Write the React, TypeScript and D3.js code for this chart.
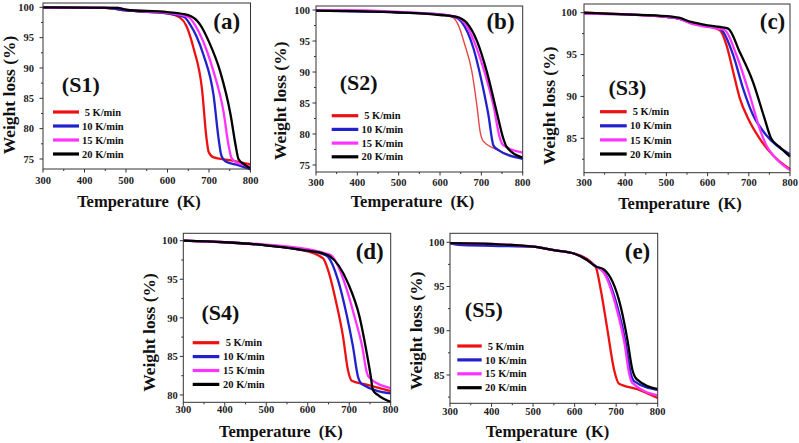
import React from "react";
import * as d3 from "d3";

type Pt = [number, number];

// ---------- data (temperature K, weight %) ----------
const RATES = [" 5 K/min", "10 K/min", "15 K/min", "20 K/min"];
const X_TICKS = [300, 400, 500, 600, 700, 800];

const A_5: Pt[] = [[300,100],[450,99.9],[500,99.5],[600,99.0],[630,98.3],[645,97.0],[663,93.2],[683,86.6],[694,78.4],[699,76.2],[710,75.3],[750,74.8],[800,74.1]];
const A_10: Pt[] = [[300,100],[450,99.9],[500,99.5],[600,99.0],[640,98.4],[655,97.1],[670,95.2],[687,92.1],[711,85.5],[723,78.4],[730,75.5],[740,74.6],[770,74.0],[800,73.3]];
const A_15: Pt[] = [[300,100],[480,99.9],[500,99.6],[600,99.1],[650,98.4],[675,96.0],[695,92.8],[711,89.4],[735,82.8],[747,77.3],[754,75.2],[765,74.5],[800,73.8]];
const A_20: Pt[] = [[300,100],[480,99.9],[500,99.6],[600,99.2],[650,98.7],[679,97.1],[700,94.3],[727,89.4],[752,82.3],[764,77.3],[771,75.0],[785,74.1],[800,73.4]];

const B_5: Pt[] = [[300,100],[500,99.6],[600,99.2],[630,98.8],[644,97.6],[660,94.4],[677,90.1],[689,84.7],[697,80.4],[705,78.8],[733,77.6],[800,76.0]];
const B_10: Pt[] = [[300,99.9],[500,99.6],[600,99.3],[635,98.9],[652,98.1],[681,93.8],[701,88.4],[717,83.1],[729,78.2],[737,77.6],[800,76.0]];
const B_15: Pt[] = [[300,100],[380,100],[500,99.7],[600,99.3],[640,98.9],[660,97.9],[685,94.5],[705,90.6],[729,84.7],[745,79.3],[753,78.2],[800,77.0]];
const B_20: Pt[] = [[300,99.9],[500,99.6],[600,99.2],[640,98.9],[665,97.9],[690,94.9],[713,90.1],[737,83.6],[753,79.3],[761,77.95],[800,76.2]];

const C_5: Pt[] = [[300,100],[400,99.8],[500,99.5],[530,99.3],[560,98.8],[600,98.4],[630,97.9],[646,96.1],[662,92.95],[678,89.8],[698,87.4],[726,85.0],[758,83.0],[800,81.3]];
const C_10: Pt[] = [[300,99.9],[400,99.8],[500,99.5],[530,99.3],[560,98.8],[600,98.4],[625,98.2],[638,97.7],[662,94.95],[686,90.97],[710,87.8],[742,85.4],[766,84.2],[800,83.1]];
const C_15: Pt[] = [[300,99.9],[400,99.8],[500,99.5],[530,99.3],[560,98.7],[600,98.3],[625,98.1],[642,97.9],[670,94.95],[702,90.2],[726,86.2],[742,84.2],[766,82.6],[800,81.2]];
const C_20: Pt[] = [[300,100],[400,99.8],[500,99.6],[530,99.4],[560,98.9],[600,98.5],[630,98.3],[650,98.1],[678,95.3],[710,91.75],[738,87.4],[754,85.0],[774,84.0],[800,82.8]];

const D_5: Pt[] = [[300,100],[400,99.8],[500,99.4],[600,98.6],[637,97.7],[649,96.2],[669,91.9],[685,87.6],[697,83.2],[706,81.85],[737,81.4],[800,80.5]];
const D_10: Pt[] = [[300,100],[400,99.8],[500,99.4],[600,98.7],[635,98.3],[649,97.9],[673,94.9],[693,90.6],[709,86.3],[721,82.4],[731,81.4],[800,80.2]];
const D_15: Pt[] = [[300,100],[400,99.8],[500,99.5],[600,98.9],[640,98.4],[657,98.1],[689,94.5],[713,90.1],[733,85.8],[741,83.2],[749,82.2],[800,80.9]];
const D_20: Pt[] = [[300,100],[400,99.8],[500,99.4],[600,98.7],[640,98.3],[653,98.0],[697,94.5],[725,90.1],[741,85.8],[752,82.4],[757,80.65],[769,80.0],[800,79.1]];

const E_5: Pt[] = [[300,99.9],[400,99.7],[500,99.5],[550,99.1],[600,98.7],[630,98.1],[645,97.5],[651,97.2],[663,94.6],[679,90.1],[695,85.6],[707,84.0],[751,83.4],[800,82.4]];
const E_10: Pt[] = [[300,99.9],[320,99.7],[400,99.6],[500,99.5],[550,99.1],[600,98.7],[630,98.0],[650,97.3],[671,96.6],[703,92.7],[723,88.6],[735,85.2],[743,84.3],[800,83.3]];
const E_15: Pt[] = [[300,99.9],[400,99.8],[500,99.5],[550,99.1],[600,98.7],[630,98.0],[650,97.3],[671,96.5],[701,92.5],[720,88.6],[732,85.0],[739,84.1],[800,82.7]];
const E_20: Pt[] = [[300,99.9],[400,99.8],[500,99.5],[550,99.1],[600,98.7],[630,98.0],[650,97.3],[671,96.9],[711,92.7],[727,89.0],[739,85.6],[750,84.5],[800,83.4]];

// ---------- styling / layout ----------
const COLORS = ["#ee1111", "#2222cc", "#ff33ff", "#000000"];
const FONT = "'Liberation Serif', 'Times New Roman', serif";

interface PanelCfg {
  box: [number, number, number, number]; // left, top, right, bottom
  yDom: [number, number];
  yTicks: number[];
  series: Pt[][];
  tag: string; tagPos: [number, number];
  sLabel: string; sPos: [number, number];
  legend: [number, number, number, number, number]; // lineX0, lineX1, textX, firstRowY, step
  xLabelOff: number; yLabelOff: number;
  xTitle: [number, number]; yTitle: [number, number];
  thinRed?: boolean;
}

const PANELS: PanelCfg[] = [
  { box: [43, 3, 250.5, 169], yDom: [73.35, 100.71], yTicks: [75, 80, 85, 90, 95, 100], series: [A_5, A_10, A_15, A_20],
    tag: "(a)", tagPos: [226.7, 22], sLabel: "(S1)", sPos: [80.8, 85], legend: [53, 79, 82, 112, 14],
    xLabelOff: 11, yLabelOff: 9, xTitle: [139, 201.7], yTitle: [8.5, 95] },
  { box: [316, 6, 522.7, 172], yDom: [73.87, 100.65], yTicks: [75, 80, 85, 90, 95, 100], series: [B_5, B_10, B_15, B_20],
    tag: "(b)", tagPos: [500.5, 21.7], sLabel: "(S2)", sPos: [358.7, 83], legend: [331.7, 358.3, 361.5, 115.7, 13.7],
    xLabelOff: 10, yLabelOff: 6, xTitle: [412.5, 201.7], yTitle: [280, 100.8], thinRed: true },
  { box: [584, 4, 790, 172.7], yDom: [80.89, 101.04], yTicks: [85, 90, 95, 100], series: [C_5, C_10, C_15, C_20],
    tag: "(c)", tagPos: [772.5, 21.7], sLabel: "(S3)", sPos: [627.5, 88], legend: [600, 626.7, 630, 111.7, 14.1],
    xLabelOff: 10, yLabelOff: 7, xTitle: [680, 203.3], yTitle: [548.5, 105.8] },
  { box: [183.3, 233.3, 390.7, 402.3], yDom: [79.05, 100.96], yTicks: [80, 85, 90, 95, 100], series: [D_5, D_10, D_15, D_20],
    tag: "(d)", tagPos: [369.7, 251.7], sLabel: "(S4)", sPos: [220.5, 313.3], legend: [192.7, 219.3, 223, 342.7, 13.9],
    xLabelOff: 7.5, yLabelOff: 5.5, xTitle: [280.8, 431.7], yTitle: [148.5, 332.5] },
  { box: [450, 233.3, 657.7, 403.3], yDom: [81.8, 101.01], yTicks: [85, 90, 95, 100], series: [E_5, E_10, E_15, E_20],
    tag: "(e)", tagPos: [637.5, 251.7], sLabel: "(S5)", sPos: [483.8, 310], legend: [457.3, 481.7, 485, 346, 13.9],
    xLabelOff: 8.5, yLabelOff: 5.5, xTitle: [547.5, 431.7], yTitle: [415.5, 330.8] },
];

function Panel({ cfg }: { cfg: PanelCfg }) {
  const [l, t, r, b] = cfg.box;
  const x = d3.scaleLinear().domain([300, 800]).range([l, r]);
  const y = d3.scaleLinear().domain(cfg.yDom).range([b, t]);
  const line = d3.line<Pt>().x((d) => x(d[0])).y((d) => y(d[1])).curve(d3.curveMonotoneX);
  const minorX = d3.range(350, 800, 100);
  const step = cfg.yTicks[1] - cfg.yTicks[0];
  const minorY = d3.range(cfg.yTicks[0] - step / 2, cfg.yDom[1], step).filter((v) => v > cfg.yDom[0] && v < cfg.yDom[1]);
  const [lx0, lx1, tx, ly0, lstep] = cfg.legend;
  const axisCol = "#333";
  return (
    <g>
      <defs>
        <clipPath id={"clip" + cfg.tag}>
          <rect x={l} y={t} width={r - l} height={b - t} />
        </clipPath>
      </defs>
      <g clipPath={`url(#clip${cfg.tag})`}>
        {cfg.series.map((s, i) => (
          <path key={i} d={line(s) || ""} fill="none"
            stroke={cfg.thinRed && i === 0 ? "#e34848" : COLORS[i]}
            strokeWidth={cfg.thinRed && i === 0 ? 1.4 : 2.3} strokeLinejoin="round" />
        ))}
      </g>
      <rect x={l} y={t} width={r - l} height={b - t} fill="none" stroke={axisCol} strokeWidth={1} />
      {X_TICKS.map((v) => (
        <g key={"xt" + v}>
          <line x1={x(v)} x2={x(v)} y1={b} y2={b + 3.5} stroke={axisCol} />
          <text x={x(v)} y={b + cfg.xLabelOff} dy="0.35em" textAnchor="middle" fontSize={10.5} fontWeight="bold" fontFamily={FONT} fill="#222">{v}</text>
        </g>
      ))}
      {minorX.map((v) => (
        <line key={"xm" + v} x1={x(v)} x2={x(v)} y1={b} y2={b + 2} stroke={axisCol} />
      ))}
      {cfg.yTicks.map((v) => (
        <g key={"yt" + v}>
          <line x1={l - 3.5} x2={l} y1={y(v)} y2={y(v)} stroke={axisCol} />
          <text x={l - cfg.yLabelOff} y={y(v)} dy="0.35em" textAnchor="end" fontSize={10.5} fontWeight="bold" fontFamily={FONT} fill="#222">{v}</text>
        </g>
      ))}
      {minorY.map((v) => (
        <line key={"ym" + v} x1={l - 2} x2={l} y1={y(v)} y2={y(v)} stroke={axisCol} />
      ))}
      <text x={cfg.tagPos[0]} y={cfg.tagPos[1]} dy="0.3em" textAnchor="middle" fontSize={23} fontWeight="bold" fontFamily={FONT} fill="#111">{cfg.tag}</text>
      <text x={cfg.sPos[0]} y={cfg.sPos[1]} dy="0.3em" textAnchor="middle" fontSize={22} fontWeight="bold" fontFamily={FONT} fill="#111">{cfg.sLabel}</text>
      {RATES.map((lab, i) => (
        <g key={"lg" + i}>
          <line x1={lx0} x2={lx1} y1={ly0 + i * lstep} y2={ly0 + i * lstep} stroke={COLORS[i]} strokeWidth={3.2} />
          <text x={tx} y={ly0 + i * lstep} dy="0.35em" fontSize={10.5} fontWeight="bold" fontFamily={FONT} fill="#111" style={{ whiteSpace: "pre" }}>{lab}</text>
        </g>
      ))}
      <text x={cfg.xTitle[0]} y={cfg.xTitle[1]} dy="0.35em" textAnchor="middle" fontSize={16.5} fontWeight="bold" fontFamily={FONT} fill="#111" style={{ whiteSpace: "pre" }}>Temperature  (K)</text>
      <text transform={`translate(${cfg.yTitle[0]},${cfg.yTitle[1]}) rotate(-90)`} dy="0.35em" textAnchor="middle" fontSize={17.5} fontWeight="bold" fontFamily={FONT} fill="#111">Weight loss (%)</text>
    </g>
  );
}

export default function App() {
  return (
    <svg width={799} height={443} style={{ position: "absolute", left: 0, top: 0, background: "#fff" }}>
      <rect x={0} y={0} width={799} height={443} fill="#fff" />
      {PANELS.map((p) => (
        <Panel key={p.tag} cfg={p} />
      ))}
    </svg>
  );
}
